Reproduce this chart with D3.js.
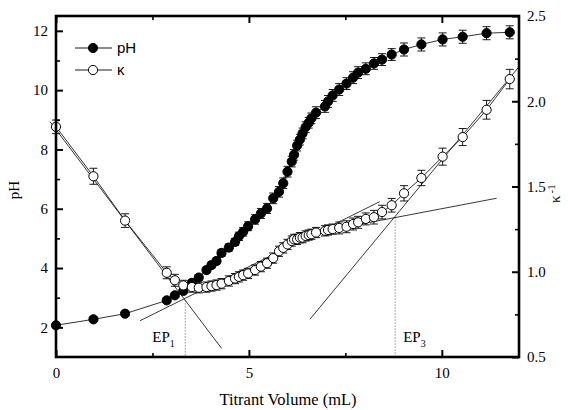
<!DOCTYPE html>
<meta charset="utf-8">
<style>
body { margin: 0; background: #fff; }
svg { display: block; }
.tick text { font-family: "Liberation Serif", "Times New Roman", serif; font-size: 15px; fill: #000; }
.tick line { stroke: #000; stroke-width: 2; }
.minor .tick line { stroke-width: 1.6; }
.domain { display: none; }
.title { font-family: "Liberation Serif", "Times New Roman", serif; font-size: 15px; }
.legend text { font-family: "Liberation Sans", Arial, sans-serif; font-size: 15px; }
</style>
<body>
<script src="https://cdn.jsdelivr.net/npm/d3@7"></script>
<script>

// titrant volume (mL) for each reading
var volume = [0, 0.97, 1.79, 2.87, 3.08, 3.30, 3.52, 3.70, 3.90, 4.03, 4.16, 4.29, 4.48, 4.64,
  4.74, 4.85, 4.98, 5.16, 5.31, 5.47, 5.63, 5.78, 5.89, 6.00, 6.11, 6.17, 6.25, 6.32,
  6.39, 6.47, 6.55, 6.62, 6.74, 6.97, 7.05, 7.17, 7.34, 7.53, 7.70, 7.83, 8.03, 8.24,
  8.45, 8.70, 9.02, 9.47, 10.02, 10.54, 11.16, 11.76];

var pH = [2.07, 2.27, 2.46, 2.91, 3.08, 3.23, 3.50, 3.68, 3.93, 4.10, 4.24, 4.51, 4.69, 4.88,
  5.07, 5.22, 5.41, 5.64, 5.84, 6.01, 6.35, 6.57, 6.86, 7.25, 7.59, 7.82, 8.13, 8.33,
  8.54, 8.75, 8.90, 9.05, 9.24, 9.45, 9.62, 9.82, 10.02, 10.22, 10.42, 10.59, 10.72, 10.90,
  11.03, 11.20, 11.37, 11.54, 11.71, 11.80, 11.92, 11.95];

var pHErr = [0.08, 0.08, 0.08, 0.08, 0.08, 0.08, 0.08, 0.1, 0.1, 0.1, 0.1, 0.12, 0.12, 0.12,
  0.14, 0.14, 0.15, 0.16, 0.17, 0.17, 0.18, 0.18, 0.18, 0.18, 0.18, 0.18, 0.18, 0.18,
  0.18, 0.18, 0.18, 0.18, 0.2, 0.2, 0.2, 0.2, 0.2, 0.2, 0.2, 0.2, 0.2, 0.2,
  0.2, 0.2, 0.22, 0.22, 0.22, 0.22, 0.22, 0.22];

var kappa = [1.85, 1.56, 1.30, 0.994, 0.95, 0.92, 0.91, 0.906, 0.91, 0.916, 0.922, 0.93, 0.946, 0.96,
  0.97, 0.98, 0.99, 1.01, 1.03, 1.05, 1.08, 1.12, 1.14, 1.16, 1.18, 1.19, 1.19, 1.20,
  1.20, 1.21, 1.215, 1.22, 1.23, 1.24, 1.245, 1.25, 1.257, 1.264, 1.28, 1.29, 1.31, 1.32,
  1.35, 1.39, 1.46, 1.55, 1.675, 1.79, 1.95, 2.13];

var kappaErr = [0.04, 0.047, 0.04, 0.035, 0.035, 0.03, 0.03, 0.03, 0.03, 0.03, 0.03, 0.03, 0.03, 0.03,
  0.03, 0.03, 0.03, 0.03, 0.03, 0.03, 0.03, 0.03, 0.03, 0.03, 0.03, 0.03, 0.03, 0.03,
  0.03, 0.03, 0.03, 0.03, 0.03, 0.03, 0.03, 0.03, 0.035, 0.035, 0.035, 0.035, 0.035, 0.04,
  0.04, 0.04, 0.045, 0.045, 0.05, 0.05, 0.055, 0.057];

// linear fits of the conductivity branches [volume, kappa]
var fitDown = [[-0.155, 1.88], [4.29, 0.551]];
var fitUpLow = [[2.18, 0.713], [8.39, 1.411]];
var fitSteep = [[6.58, 0.721], [11.995, 2.201]];
var fitFlat = [[7.10, 1.245], [11.42, 1.431]];

var endPoints = [
  {name: "EP", sub: "1", v: 3.35, k: 0.832},
  {name: "EP", sub: "3", v: 8.79, k: 1.318}
];

var pHTicks = [2, 4, 6, 8, 10, 12];
var pHMinor = [3, 5, 7, 9, 11];
var volTicks = [0, 5, 10];
var volMinor = [2.5, 7.5];
var kTicks = [0.5, 1.0, 1.5, 2.0, 2.5];
var kMinor = [0.75, 1.25, 1.75, 2.25];

var width = 568, height = 410;
var mLeft = 56, mRight = 519, mTop = 16, mBottom = 357;

var x = d3.scaleLinear().domain([0, 12]).range([mLeft, mRight]);
var yPH = d3.scaleLinear().domain([1, 12.5]).range([mBottom, mTop]);
var yK = d3.scaleLinear().domain([0.5, 2.5]).range([mBottom, mTop]);

var svg = d3.select("body").append("svg")
    .attr("width", width)
    .attr("height", height);

var rows = volume.map(function(v, i) {
  return {v: v, pH: pH[i], pHErr: pHErr[i], k: kappa[i], kErr: kappaErr[i]};
});

// fit lines
var line = d3.line()
    .x(function(d) { return x(d[0]); })
    .y(function(d) { return yK(d[1]); });

svg.selectAll(".fit")
    .data([fitDown, fitUpLow, fitSteep, fitFlat])
  .enter().append("path")
    .attr("class", "fit")
    .attr("d", line)
    .attr("fill", "none")
    .attr("stroke", "#222")
    .attr("stroke-width", 0.9);

// end point markers
svg.selectAll(".ep")
    .data(endPoints)
  .enter().append("line")
    .attr("class", "ep")
    .attr("x1", function(d) { return x(d.v); })
    .attr("x2", function(d) { return x(d.v); })
    .attr("y1", function(d) { return yK(d.k); })
    .attr("y2", mBottom)
    .attr("stroke", "#333")
    .attr("stroke-width", 0.8)
    .attr("stroke-dasharray", "1,2");

var epLabel = svg.selectAll(".eplabel")
    .data(endPoints)
  .enter().append("text")
    .attr("class", "title")
    .attr("x", function(d) { return x(d.v) + (d.sub === "1" ? -33 : 8); })
    .attr("y", 342);

epLabel.append("tspan").text(function(d) { return d.name; });
epLabel.append("tspan")
    .attr("dy", 5)
    .style("font-size", "10px")
    .text(function(d) { return d.sub; });

// series: connecting line, error bars, markers
function series(key, errKey, scale, fill) {
  var g = svg.append("g");

  g.append("path")
      .datum(rows)
      .attr("fill", "none")
      .attr("stroke", "#000")
      .attr("stroke-width", 0.8)
      .attr("d", d3.line()
          .x(function(d) { return x(d.v); })
          .y(function(d) { return scale(d[key]); }));

  var err = g.selectAll(".err")
      .data(rows)
    .enter().append("g")
      .attr("stroke", "#000")
      .attr("stroke-width", 0.9);

  err.append("line")
      .attr("x1", function(d) { return x(d.v); })
      .attr("x2", function(d) { return x(d.v); })
      .attr("y1", function(d) { return scale(d[key] - d[errKey]); })
      .attr("y2", function(d) { return scale(d[key] + d[errKey]); });

  [-1, 1].forEach(function(s) {
    err.append("line")
        .attr("x1", function(d) { return x(d.v) - 4; })
        .attr("x2", function(d) { return x(d.v) + 4; })
        .attr("y1", function(d) { return scale(d[key] + s * d[errKey]); })
        .attr("y2", function(d) { return scale(d[key] + s * d[errKey]); });
  });

  g.selectAll("circle")
      .data(rows)
    .enter().append("circle")
      .attr("cx", function(d) { return x(d.v); })
      .attr("cy", function(d) { return scale(d[key]); })
      .attr("r", 4.6)
      .attr("fill", fill)
      .attr("stroke", "#000")
      .attr("stroke-width", 1);
}

series("pH", "pHErr", yPH, "#000");
series("k", "kErr", yK, "#fff");

// axes with inward ticks
function addAxis(axis, tx, ty, cls) {
  svg.append("g")
      .attr("class", cls || "")
      .attr("transform", "translate(" + tx + "," + ty + ")")
      .call(axis)
      .attr("font-family", "Liberation Serif, Times New Roman, serif")
      .attr("font-size", 15);
}

addAxis(d3.axisLeft(yPH).tickValues(pHTicks).tickSize(-7).tickPadding(8), mLeft, 0);
addAxis(d3.axisLeft(yPH).tickValues(pHMinor).tickSize(-4).tickFormat(""), mLeft, 0, "minor");
addAxis(d3.axisBottom(x).tickValues(volTicks).tickSize(-7).tickPadding(10), 0, mBottom);
addAxis(d3.axisBottom(x).tickValues(volMinor).tickSize(-4).tickFormat(""), 0, mBottom, "minor");
addAxis(d3.axisTop(x).tickValues(volTicks).tickSize(-7).tickFormat(""), 0, mTop);
addAxis(d3.axisTop(x).tickValues(volMinor).tickSize(-4).tickFormat(""), 0, mTop, "minor");
addAxis(d3.axisRight(yK).tickValues(kTicks).tickSize(-7).tickPadding(8)
    .tickFormat(d3.format(".1f")), mRight, 0);
addAxis(d3.axisRight(yK).tickValues(kMinor).tickSize(-4).tickFormat(""), mRight, 0, "minor");

svg.append("rect")
    .attr("x", mLeft)
    .attr("y", mTop)
    .attr("width", mRight - mLeft)
    .attr("height", mBottom - mTop)
    .attr("fill", "none")
    .attr("stroke", "#000")
    .attr("stroke-width", 2.6);

// titles
svg.append("text")
    .attr("class", "title")
    .attr("text-anchor", "middle")
    .style("font-size", "16.5px")
    .attr("x", 288)
    .attr("y", 405)
    .text("Titrant Volume (mL)");

svg.append("text")
    .attr("class", "title")
    .attr("text-anchor", "middle")
    .attr("transform", "translate(19,190) rotate(-90)")
    .text("pH");

var kTitle = svg.append("text")
    .attr("class", "title")
    .attr("transform", "translate(560,203) rotate(-90)");
kTitle.append("tspan").text("κ");
kTitle.append("tspan").attr("dx", 2).attr("dy", -5).style("font-size", "11px").text("-1");

// legend
var legend = svg.append("g").attr("class", "legend")
  .selectAll("g")
    .data([{label: "pH", fill: "#000"}, {label: "κ", fill: "#fff"}])
  .enter().append("g")
    .attr("transform", function(d, i) { return "translate(0," + (48 + i * 22) + ")"; });

legend.append("line")
    .attr("x1", 75)
    .attr("x2", 112)
    .attr("stroke", "#000")
    .attr("stroke-width", 0.9);

legend.append("circle")
    .attr("cx", 93)
    .attr("r", 4.6)
    .attr("fill", function(d) { return d.fill; })
    .attr("stroke", "#000");

legend.append("text")
    .attr("x", 117)
    .attr("y", 5)
    .text(function(d) { return d.label; });

</script>
</body>
